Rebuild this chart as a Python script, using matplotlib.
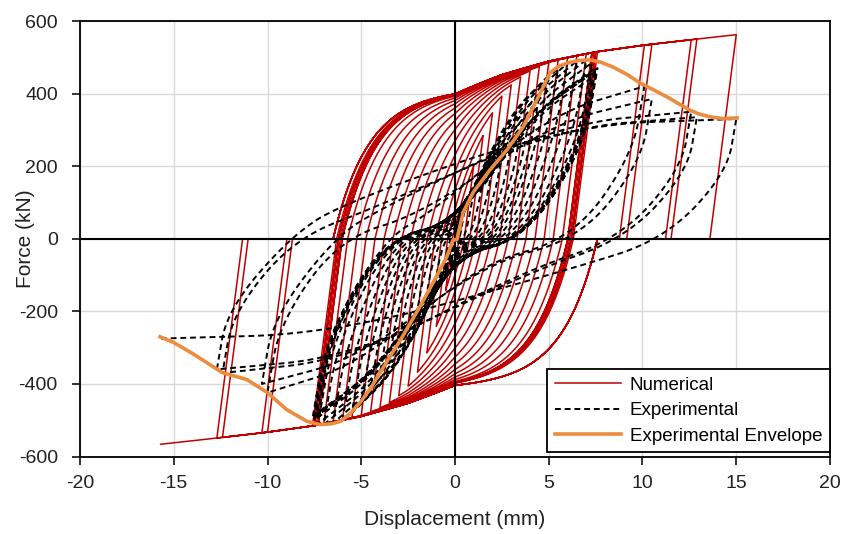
import numpy as np
import matplotlib.pyplot as plt

plt.rcParams['font.family'] = ['Liberation Sans', 'DejaVu Sans']
plt.rcParams['axes.unicode_minus'] = False

# cycle peak displacements (mm)
peak_pos_x = [0.5, 1.0, 1.5, 2.0, 2.5, 3.0, 3.5, 4.0, 4.5, 5.0, 5.5, 6.0, 6.5, 7.0,
              7.3, 7.5, 7.4, 7.6, 7.3, 7.5, 10.1, 10.5, 12.6, 12.9, 15.0]
peak_neg_x = [-0.5, -1.0, -1.5, -2.0, -2.5, -3.0, -3.5, -4.0, -4.5, -5.0, -5.5, -6.0, -6.5, -7.0,
              -7.3, -7.5, -7.4, -7.6, -7.3, -7.5, -10.0, -10.3, -12.4, -12.7, -15.7]

# experimental peak forces (kN)
exp_pos_f = [75, 130, 165, 198, 230, 262, 298, 345, 395, 450, 470, 484, 490, 493,
             485, 470, 460, 470, 455, 450, 420, 385, 350, 335, 330]
exp_neg_f = [-55, -105, -150, -195, -245, -285, -330, -369, -412, -450, -480, -500, -508, -512,
             -510, -500, -490, -495, -480, -485, -424, -400, -370, -360, -275]

# numerical model: upper hardening line (kN) and branch parameters
bb_x = [-16, -8, 0, 2.5, 5, 7.5, 10, 12.5, 16]
bb_f = [370, 390, 410, 455, 490, 515, 533, 548, 568]
k_el = 400.0      # unloading stiffness, kN/mm
c_curve = 1.8     # reloading curve length, mm
slip_pos = 7.6    # reloading start limit after positive peaks
slip_neg = -6.5   # reloading start limit after negative peaks

# experimental envelope
env_x = [-15.73, -15.0, -14.1, -12.4, -11.1, -10.0, -9.0, -7.9, -7.2, -6.6, -6.1, -5.6, -5.07,
         -4.5, -4.0, -2.9, -1.87, -1.17, -0.43, -0.1, 0.1, 0.43, 0.96, 1.87, 2.77, 3.63, 4.37,
         5.07, 5.5, 5.97, 6.6, 7.2, 7.8, 8.43, 9.2, 9.87, 10.6, 11.3, 12.5, 13.0, 13.6, 14.3, 15.04]
env_f = [-270, -286, -313, -369, -388, -424, -470, -503, -512, -510, -503, -482, -452,
         -412, -369, -278, -187, -121, -49, -3, -3, 72, 127, 190, 245, 308, 383,
         457, 474, 484, 491, 493, 486, 473, 452, 429, 410, 391, 355, 344, 336, 331, 333]


def num_branch(xr, fr, xt):
    s = np.sign(xt - xr)
    x0 = xr - fr / k_el
    xs = max(x0, slip_neg) if s > 0 else min(x0, slip_pos)
    xc = np.linspace(xs, xt, 150)
    back = s * np.interp(s * xc, bb_x, bb_f)
    fc = back * (1 - np.exp(-s * (xc - xs) / c_curve))
    return np.r_[xr, x0, xc], np.r_[fr, 0.0, fc]


def chaikin(p, n=4):
    for _ in range(n):
        q = 0.75 * p[:-1] + 0.25 * p[1:]
        r = 0.25 * p[:-1] + 0.75 * p[1:]
        new = np.empty((2 * len(q), 2))
        new[0::2] = q
        new[1::2] = r
        p = np.vstack([p[:1], new, p[-1:]])
    return p


def exp_branch(xr, fr, xt, ft):
    s = np.sign(xt - xr)
    A = abs(xt)
    b = np.clip((A - 8) / 6, 0, 1)
    pts = [(xr, fr),
           (xr + s * 0.45 * abs(fr) / 300.0, 0.55 * fr),
           (xr + s * min(0.5 * abs(xr), 3.8), 0.0),
           (((1 - b) * 0.02 - b * 0.4) * xt, ((1 - b) * 0.1 + b * 0.3) * ft),
           (((1 - b) * 0.55 + b * 0.4) * xt, ((1 - b) * 0.74 + b * 0.95) * ft),
           (xt, ft)]
    pts = np.array(pts, float)
    for i in range(1, len(pts)):
        if s * (pts[i, 0] - pts[i - 1, 0]) < 0.02:
            pts[i, 0] = pts[i - 1, 0] + s * 0.02
    pts[-1, 0] = xt
    p = chaikin(pts)
    return p[:, 0], p[:, 1]


# build paths following the displacement history
num_x, num_f = [0.0], [0.0]
exp_x, exp_f = [0.0], [0.0]
xr, fr = 0.0, 0.0
for xp, xn, fp, fn in zip(peak_pos_x, peak_neg_x, exp_pos_f, exp_neg_f):
    for xt, ft in ((xp, fp), (xn, fn)):
        bx, bf = num_branch(xr, fr, xt)
        num_x.extend(bx[1:])
        num_f.extend(bf[1:])
        xr, fr = xt, bf[-1]
        ex, ef = exp_branch(exp_x[-1], exp_f[-1], xt, ft)
        exp_x.extend(ex[1:])
        exp_f.extend(ef[1:])

fig = plt.figure(figsize=(8.45, 5.34), dpi=100)
fig.set_facecolor('w')
ax = fig.add_axes([80 / 845, 1 - 456.5 / 534, 750 / 845, 435.5 / 534])

ax.plot(num_x, num_f, color='#C00000', lw=1.1, zorder=2, label='Numerical')
ax.axhline(0, color='k', lw=1.5, zorder=2.5)
ax.axvline(0, color='k', lw=1.5, zorder=2.5)
ax.plot(exp_x, exp_f, color='k', lw=1.4, ls=(0, (3, 2)), zorder=3, label='Experimental')
ax.plot(env_x, env_f, color='#EB8C3F', lw=2.6, zorder=4, label='Experimental Envelope')

ax.set_xlim(-20, 20)
ax.set_ylim(-600, 600)
ax.set_xticks(np.arange(-20, 21, 5))
ax.set_yticks(np.arange(-600, 601, 200))
ax.grid(True, color='#D9D9D9', lw=1.0, zorder=0)
ax.set_axisbelow(True)
for sp in ax.spines.values():
    sp.set_linewidth(1.3)
ax.tick_params(direction='out', length=6, width=1.3, labelsize=14, colors='#222222')
ax.tick_params(axis='x', pad=7)
ax.tick_params(axis='y', pad=10)
ax.set_xlabel('Displacement (mm)', fontsize=15, color='#222222')
ax.set_ylabel('Force (kN)', fontsize=15, color='#222222')
ax.xaxis.set_label_coords(0.5, -0.122)
ax.yaxis.set_label_coords(-0.06, 0.5)

leg = ax.legend(loc='lower right', bbox_to_anchor=(1.0, 0.01), borderaxespad=0,
                fancybox=False, edgecolor='k', framealpha=1, fontsize=13.5,
                handlelength=3.5, handletextpad=0.5, labelspacing=0.45, borderpad=0.4)
leg.get_frame().set_linewidth(1.3)
leg.set_zorder(10)

fig.savefig('out.png', dpi=100)
